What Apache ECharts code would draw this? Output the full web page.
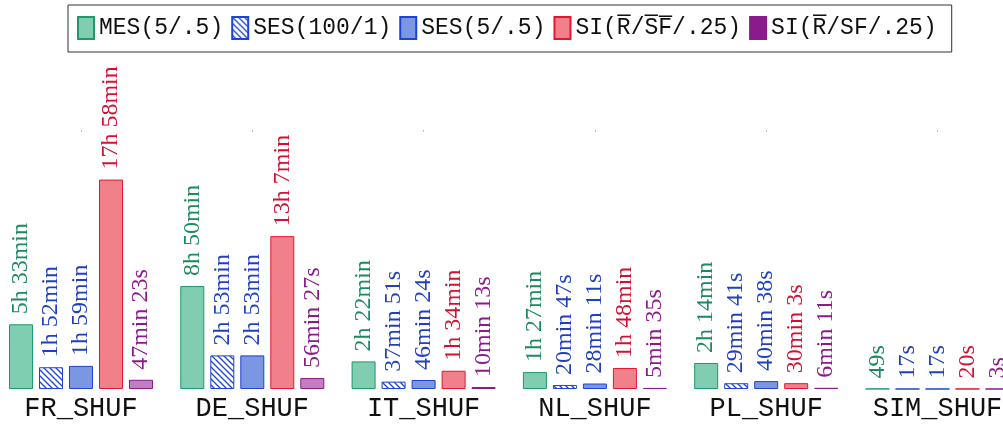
<!DOCTYPE html>
<html>
<head>
<meta charset="utf-8">
<script src="https://cdn.jsdelivr.net/npm/echarts@6/dist/echarts.min.js"></script>
<style>
html,body{margin:0;padding:0;background:#fff;}
#chart{width:1003px;height:425px;}
</style>
</head>
<body>
<div id="chart"></div>
<script>
// Categories and series values (seconds)
const categories = ['FR_SHUF', 'DE_SHUF', 'IT_SHUF', 'NL_SHUF', 'PL_SHUF', 'SIM_SHUF'];
const seriesNames = ['MES(5/.5)', 'SES(100/1)', 'SES(5/.5)', 'SI(R\u0305/S\u0305F\u0305/.25)', 'SI(R\u0305/SF/.25)'];
const mes5 = [19980, 31800, 8520, 5220, 8040, 49];
const ses100 = [6720, 10380, 2271, 1247, 1781, 17];
const ses5 = [7140, 10380, 2784, 1691, 2438, 17];
const siRbarSFbar = [64680, 47220, 5640, 6480, 1803, 20];
const siRbarSF = [2843, 3387, 613, 335, 371, 3];

function fmt(v) {
  v = Math.round(v);
  if (v >= 3600) {
    const h = Math.floor(v / 3600), m = Math.floor((v % 3600) / 60);
    return h + 'h ' + m + 'min';
  }
  if (v >= 60) {
    const m = Math.floor(v / 60), s = v % 60;
    return m + 'min ' + s + 's';
  }
  return v + 's';
}

// hatch pattern for SES(100/1)
function hatch(color) {
  const c = document.createElement('canvas');
  const n = 6;
  c.width = n; c.height = n;
  const g = c.getContext('2d');
  g.fillStyle = '#fff';
  g.fillRect(0, 0, n, n);
  g.strokeStyle = color;
  g.lineWidth = 1.3;
  g.beginPath();
  g.moveTo(-1, -1); g.lineTo(n + 1, n + 1);
  g.moveTo(-1 - n, -1); g.lineTo(1, n + 1);
  g.moveTo(n - 1, -1); g.lineTo(2 * n + 1, n + 1);
  g.stroke();
  return { image: c, repeat: 'repeat' };
}

const styles = [
  { fill: '#80cdb1', border: '#1b9a6a', text: '#1b8a5c', legend: null },
  { fill: hatch('#1f44d0'), border: '#1f44d0', text: '#1f3fc0', legend: null },
  { fill: '#7b96e2', border: '#1f44d0', text: '#1f3fc0', legend: null },
  { fill: '#f2808b', border: '#e0182f', text: '#d21030', legend: null },
  { fill: '#c080c0', border: '#8b1a8b', text: '#8b1a8b', legend: '#8b1a8b' }
];
const values = [mes5, ses100, ses5, siRbarSFbar, siRbarSF];

const chart = echarts.init(document.getElementById('chart'), null, { renderer: 'canvas' });

const series = values.map((d, i) => ({
  name: seriesNames[i],
  type: 'bar',
  data: d,
  barWidth: 24,
  barGap: '25%',
  itemStyle: { color: styles[i].fill, borderColor: styles[i].border, borderWidth: 1 },
  label: {
    show: true,
    position: 'top',
    rotate: 90,
    align: 'left',
    verticalAlign: 'middle',
    distance: 10,
    color: styles[i].text,
    fontFamily: 'Liberation Serif',
    fontSize: 24,
    formatter: p => fmt(p.value)
  },
  emphasis: { disabled: true },
  animation: false
}));

chart.setOption({
  animation: false,
  legend: {
    left: 68,
    top: 5,
    padding: [11, 15, 12, 9],
    borderColor: '#333',
    borderWidth: 1,
    itemWidth: 16,
    itemHeight: 22,
    itemGap: 8,
    icon: 'rect',
    textStyle: { fontFamily: 'Liberation Mono, DejaVu Sans Mono', fontSize: 23, color: '#111' },
    data: seriesNames.map((n, i) => styles[i].legend ? { name: n, itemStyle: { color: styles[i].legend } } : { name: n })
  },
  grid: { left: -4.65, width: 1027.8, top: 130, bottom: 36, containLabel: false, outerBoundsMode: 'none' },
  xAxis: [{
    type: 'category',
    data: categories,
    axisLine: { show: false },
    axisTick: { show: false },
    axisLabel: { fontFamily: 'Liberation Mono, DejaVu Sans Mono', fontSize: 27, color: '#111', margin: 6, interval: 0 }
  }, {
    type: 'category',
    data: categories,
    position: 'top',
    axisLine: { show: false },
    axisTick: { show: true, alignWithLabel: true, inside: true, length: 1.5, lineStyle: { color: '#aaa' } },
    axisLabel: { show: false }
  }],
  yAxis: {
    type: 'value',
    min: 0,
    max: 80000,
    show: false,
    splitLine: { show: false }
  },
  series: series
});
</script>
</body>
</html>
